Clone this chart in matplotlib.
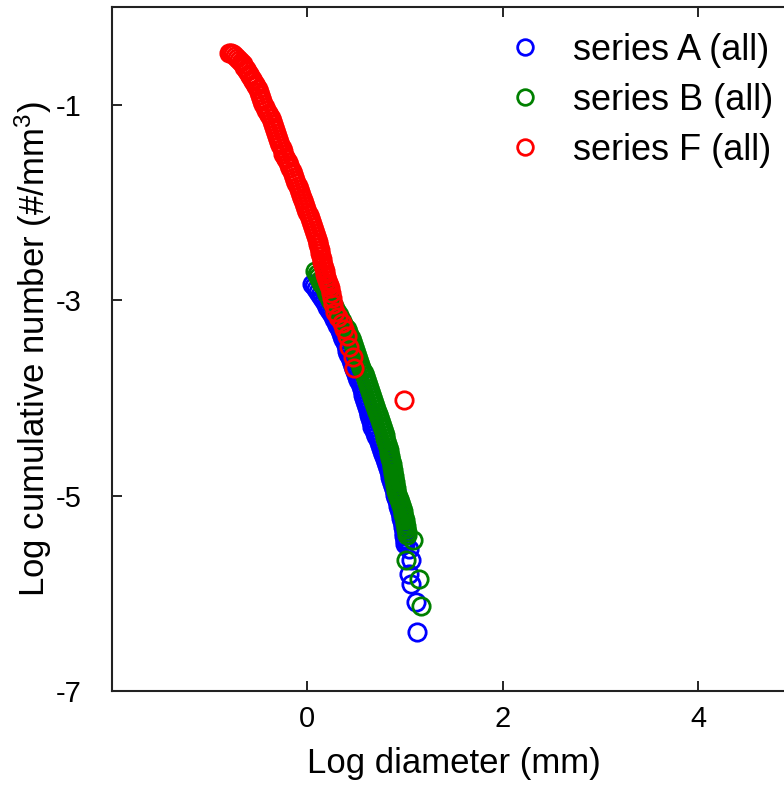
import matplotlib
matplotlib.use('Agg')
import matplotlib.pyplot as plt

plt.rcParams['font.family'] = ['Liberation Sans', 'DejaVu Sans']
plt.rcParams['mathtext.fontset'] = 'custom'
plt.rcParams['mathtext.rm'] = 'Liberation Sans'
plt.rcParams['mathtext.it'] = 'Liberation Sans'
plt.rcParams['axes.unicode_minus'] = False

# (log diameter, log cumulative number)
series_a = [
    (0.05, -2.83), (0.07, -2.86), (0.09, -2.89), (0.11, -2.92), (0.13, -2.95),
    (0.15, -2.98), (0.17, -3.01), (0.19, -3.04), (0.205, -3.07), (0.22, -3.10),
    (0.24, -3.13), (0.26, -3.16), (0.275, -3.19), (0.29, -3.22), (0.305, -3.25),
    (0.32, -3.28), (0.33, -3.31), (0.345, -3.34), (0.355, -3.37), (0.365, -3.40),
    (0.38, -3.43), (0.39, -3.46), (0.40, -3.49), (0.41, -3.52), (0.42, -3.55),
    (0.435, -3.58), (0.445, -3.61), (0.455, -3.64), (0.465, -3.67), (0.475, -3.70),
    (0.49, -3.73), (0.50, -3.76), (0.51, -3.79), (0.52, -3.82), (0.535, -3.85),
    (0.545, -3.88), (0.555, -3.91), (0.565, -3.94), (0.57, -3.97), (0.58, -4.00),
    (0.59, -4.03), (0.60, -4.06), (0.61, -4.09), (0.62, -4.12), (0.63, -4.15),
    (0.635, -4.18), (0.645, -4.21), (0.65, -4.24), (0.66, -4.27), (0.665, -4.30),
    (0.68, -4.33), (0.69, -4.36), (0.705, -4.39), (0.72, -4.42), (0.73, -4.45),
    (0.745, -4.48), (0.755, -4.51), (0.765, -4.54), (0.775, -4.57), (0.785, -4.60),
    (0.795, -4.63), (0.805, -4.66), (0.81, -4.69), (0.82, -4.72), (0.83, -4.75),
    (0.84, -4.78), (0.845, -4.81), (0.855, -4.84), (0.865, -4.87), (0.875, -4.90),
    (0.885, -4.93), (0.895, -4.96), (0.90, -4.99), (0.91, -5.02), (0.915, -5.05),
    (0.925, -5.08), (0.93, -5.11), (0.94, -5.14), (0.945, -5.17), (0.955, -5.20),
    (0.96, -5.23), (0.965, -5.26), (0.975, -5.29), (0.98, -5.32), (0.985, -5.35),
    (0.99, -5.38), (0.99, -5.41), (0.995, -5.44), (1.00, -5.47), (1.00, -5.50),
    (1.04, -5.55), (1.06, -5.66), (1.04, -5.80), (1.06, -5.91), (1.11, -6.09),
    (1.12, -6.40),
]

series_b = [
    (0.08, -2.70), (0.095, -2.73), (0.11, -2.76), (0.125, -2.79), (0.14, -2.82),
    (0.16, -2.85), (0.175, -2.88), (0.19, -2.91), (0.205, -2.94), (0.22, -2.97),
    (0.235, -3.00), (0.25, -3.03), (0.27, -3.06), (0.285, -3.09), (0.30, -3.12),
    (0.32, -3.15), (0.335, -3.18), (0.35, -3.21), (0.365, -3.24), (0.38, -3.27),
    (0.40, -3.30), (0.415, -3.33), (0.43, -3.36), (0.445, -3.39), (0.455, -3.42),
    (0.465, -3.45), (0.475, -3.48), (0.49, -3.51), (0.50, -3.54), (0.51, -3.57),
    (0.52, -3.60), (0.53, -3.63), (0.54, -3.66), (0.55, -3.69), (0.56, -3.72),
    (0.575, -3.75), (0.585, -3.78), (0.595, -3.81), (0.61, -3.84), (0.62, -3.87),
    (0.63, -3.90), (0.645, -3.93), (0.655, -3.96), (0.665, -3.99), (0.675, -4.02),
    (0.685, -4.05), (0.695, -4.08), (0.705, -4.11), (0.715, -4.14), (0.725, -4.17),
    (0.735, -4.20), (0.745, -4.23), (0.755, -4.26), (0.765, -4.29), (0.77, -4.32),
    (0.78, -4.35), (0.79, -4.38), (0.795, -4.41), (0.805, -4.44), (0.81, -4.47),
    (0.82, -4.50), (0.83, -4.53), (0.835, -4.56), (0.845, -4.59), (0.85, -4.62),
    (0.86, -4.65), (0.865, -4.68), (0.87, -4.71), (0.875, -4.74), (0.88, -4.77),
    (0.885, -4.80), (0.89, -4.83), (0.895, -4.86), (0.90, -4.89), (0.905, -4.92),
    (0.91, -4.95), (0.915, -4.98), (0.925, -5.01), (0.935, -5.04), (0.945, -5.07),
    (0.955, -5.10), (0.965, -5.13), (0.975, -5.16), (0.98, -5.19), (0.99, -5.22),
    (0.995, -5.25), (1.00, -5.28), (1.005, -5.31), (1.01, -5.34), (1.015, -5.37),
    (1.02, -5.40), (1.08, -5.45), (1.01, -5.66), (1.14, -5.85), (1.16, -6.13),
]

series_f = [
    (-0.80, -0.47), (-0.78, -0.475), (-0.76, -0.485), (-0.74, -0.50), (-0.72, -0.52),
    (-0.70, -0.54), (-0.68, -0.56), (-0.66, -0.585), (-0.645, -0.61), (-0.63, -0.635),
    (-0.615, -0.66), (-0.60, -0.685), (-0.585, -0.71), (-0.57, -0.735), (-0.555, -0.76),
    (-0.54, -0.785), (-0.525, -0.81), (-0.51, -0.84), (-0.50, -0.87), (-0.49, -0.90),
    (-0.475, -0.93), (-0.46, -0.96), (-0.45, -0.99), (-0.435, -1.02), (-0.42, -1.05),
    (-0.405, -1.08), (-0.39, -1.11), (-0.375, -1.14), (-0.365, -1.17), (-0.355, -1.20),
    (-0.345, -1.23), (-0.335, -1.26), (-0.325, -1.29), (-0.31, -1.32), (-0.30, -1.35),
    (-0.29, -1.38), (-0.28, -1.41), (-0.265, -1.44), (-0.255, -1.47), (-0.245, -1.50),
    (-0.23, -1.53), (-0.215, -1.56), (-0.20, -1.59), (-0.19, -1.62), (-0.175, -1.65),
    (-0.16, -1.68), (-0.15, -1.71), (-0.14, -1.74), (-0.125, -1.77), (-0.115, -1.80),
    (-0.10, -1.83), (-0.09, -1.86), (-0.08, -1.89), (-0.065, -1.92), (-0.055, -1.95),
    (-0.045, -1.98), (-0.03, -2.01), (-0.02, -2.04), (-0.01, -2.07), (0.00, -2.10),
    (0.015, -2.13), (0.025, -2.16), (0.035, -2.19), (0.045, -2.22), (0.055, -2.25),
    (0.065, -2.28), (0.075, -2.31), (0.085, -2.34), (0.095, -2.37), (0.105, -2.40),
    (0.11, -2.43), (0.12, -2.46), (0.125, -2.49), (0.13, -2.52), (0.14, -2.55),
    (0.145, -2.58), (0.15, -2.61), (0.16, -2.64), (0.165, -2.67), (0.175, -2.70),
    (0.18, -2.73), (0.19, -2.76), (0.20, -2.79), (0.21, -2.82), (0.22, -2.85),
    (0.23, -2.88), (0.24, -2.93), (0.25, -2.98), (0.26, -3.04), (0.28, -3.12),
    (0.31, -3.17), (0.35, -3.23), (0.37, -3.30), (0.40, -3.37), (0.43, -3.48),
    (0.47, -3.58), (0.48, -3.69), (0.99, -4.02),
]

labels = ['series A (all)', 'series B (all)', 'series F (all)']
colors = ['#0000ff', '#008000', '#ff0000']
x_ticks = [0, 2, 4]
y_ticks = [-7, -5, -3, -1]


def add_series(ax, points, color, label):
    xs = [p[0] for p in points]
    ys = [p[1] for p in points]
    ax.plot(xs, ys, linestyle='none', marker='o', markersize=12.5,
            markerfacecolor='none', markeredgecolor=color,
            markeredgewidth=2.0, label=label)


fig = plt.figure(figsize=(7.84, 7.85), dpi=100)
ax = fig.add_axes([112 / 784, 94 / 785, 684 / 784, 684 / 785])

for pts, col, lab in zip([series_a, series_b, series_f], colors, labels):
    add_series(ax, pts, col, lab)

ax.set_xlim(-2, 5)
ax.set_ylim(-7, 0)
ax.set_xticks(x_ticks)
ax.set_yticks(y_ticks)
ax.tick_params(direction='in', length=7, width=1.2, labelsize=21,
               top=True, right=True)
ax.tick_params(axis='x', pad=10)
ax.tick_params(axis='y', pad=22)
for s in ax.spines.values():
    s.set_linewidth(1.5)
    s.set_color('#222222')

ax.set_xlabel('Log diameter (mm)', fontsize=25, labelpad=10)
ax.set_ylabel(r'Log cumulative number (#/mm$^3$)', fontsize=25, labelpad=1)

ax.legend(loc='upper left', bbox_to_anchor=(511 / 784, 0.958),
          bbox_transform=fig.transFigure, frameon=False, fontsize=26,
          numpoints=1, markerscale=0.9, handlelength=0.8, handletextpad=0.93,
          labelspacing=0.41, borderpad=0, borderaxespad=0)

fig.savefig('out.png', dpi=100)
